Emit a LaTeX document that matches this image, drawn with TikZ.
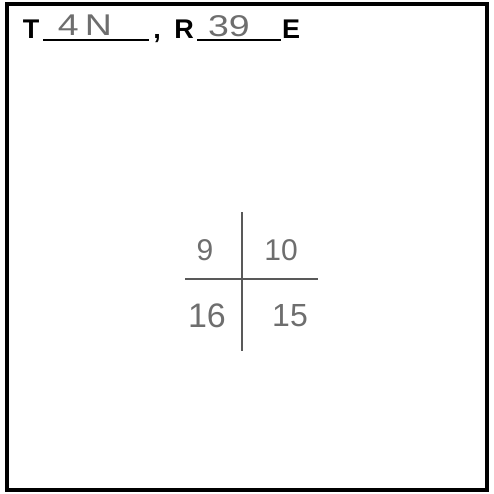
\documentclass[tikz,border=0pt]{standalone}
\usepackage{fontspec}
\setmainfont{Liberation Sans}
\begin{document}
\begin{tikzpicture}[x=1pt,y=-1pt,
  printed/.style={inner sep=0pt,anchor=base,font=\fontsize{27}{27}\selectfont\bfseries},
  hand/.style={inner sep=0pt,anchor=base,text=black!57,font=\fontsize{30}{30}\selectfont},
  handwide/.style={hand,font=\fontsize{30}{30}\selectfont,xscale=1.25},
  blank/.style={line width=2.4pt,black},
  gridline/.style={line width=2.2pt,black!65}]
\useasboundingbox (0,0) rectangle (494,493);
\draw[line width=4pt] (7,4) rectangle (487,490);
% header
\node[printed] (T) at (31,38) {T};
\coordinate (u1a) at (43,40);
\coordinate (u1b) at (149,40);
\draw[blank] (u1a) -- (u1b);
\node[handwide] (twp) at (85,35) {4\hspace{5pt}N};
\node[printed] (comma) at (157,38) {,};
\node[printed] (R) at (184,38) {R};
\coordinate (u2a) at (197,40);
\coordinate (u2b) at (281,40);
\draw[blank] (u2a) -- (u2b);
\node[handwide] (rng) at (229,36) {39};
\node[printed] (E) at (291,38) {E};
% section cross
\coordinate (vt) at (242,212);
\coordinate (vb) at (242,351);
\coordinate (hl) at (185,279);
\coordinate (hr) at (318,279);
\draw[gridline] (vt) -- (vb);
\draw[gridline] (hl) -- (hr);
\node[hand] (s9) at (205,260) {9};
\node[hand] (s10) at (281,260) {10};
\node[hand,font=\fontsize{34}{34}\selectfont] (s16) at (207,327) {16};
\node[hand,font=\fontsize{32}{32}\selectfont] (s15) at (290,326) {15};
\end{tikzpicture}
\end{document}
